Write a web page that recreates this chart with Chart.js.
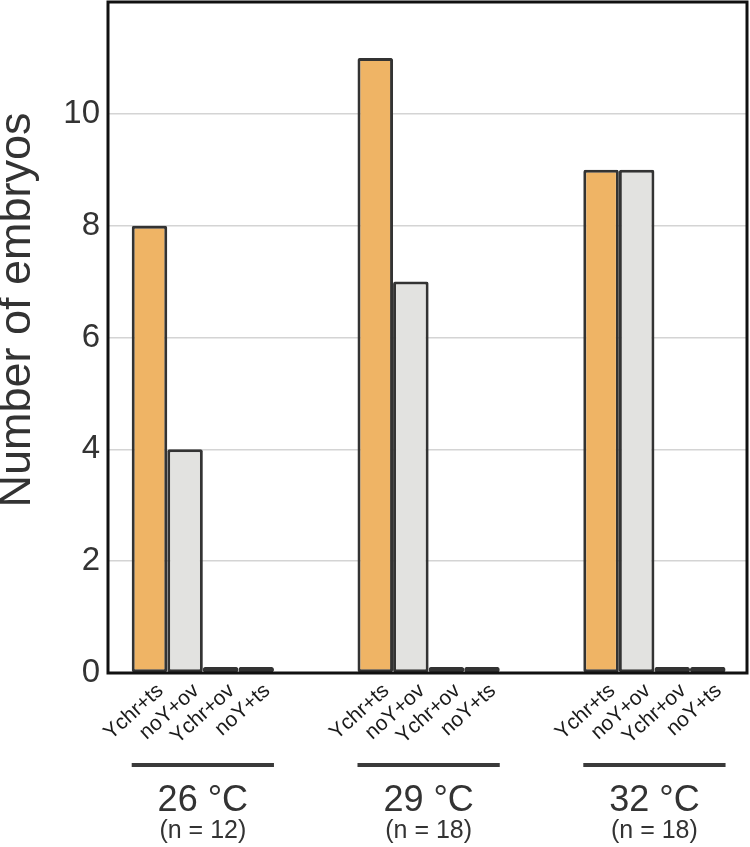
<!DOCTYPE html>
<html>
<head>
<meta charset="utf-8">
<title>Number of embryos</title>
<script src="https://cdn.jsdelivr.net/npm/chart.js@4.4.0/dist/chart.umd.min.js"></script>
<style>
  body { margin: 0; background: #fff; overflow: hidden; }
  canvas { display: block; }
</style>
</head>
<body>
<canvas id="embryoChart" width="750" height="847"></canvas>
<script>
// groups on the x axis
var temperatures = ['26 °C', '29 °C', '32 °C'];
var sampleSizes = ['(n = 12)', '(n = 18)', '(n = 18)'];

// number of embryos per temperature, one array per bar of a group
var ychrTs = [8, 11, 9];
var noYOv = [4, 7, 9];
var ychrOv = [0, 0, 0];
var noYTs = [0, 0, 0];

// y axis ticks
var yMax = 12;
var yStep = 2;

var fontFamily = '"Liberation Sans", Arial, Helvetica, sans-serif';
var textColor = '#333333';
var orange = '#EFB465';
var grey = '#E2E2E0';
var edge = '#333333';

// the groups do not sit on half-category offsets in the original, so the
// category range is widened a little (in category units)
var xStart = -0.42;
var xRange = 2.83;

function makeDataset(label, values, color) {
    return {
        label: label,
        data: values,
        backgroundColor: color,
        borderColor: edge,
        borderWidth: 3,
        borderRadius: 2,
        borderSkipped: false,
        minBarLength: 6,
        barPercentage: 1.0,
        categoryPercentage: 0.63
    };
}

// frame, labels under the bars, group lines and temperatures
var decorations = {
    id: 'decorations',
    afterDraw: function (chart) {
        var ctx = chart.ctx;
        var area = chart.chartArea;
        var xScale = chart.scales.x;
        ctx.save();

        ctx.strokeStyle = '#111111';
        ctx.lineWidth = 3;
        ctx.strokeRect(area.left, area.top, area.right - area.left, area.bottom - area.top);

        // rotated bar labels
        ctx.fillStyle = '#1a1a1a';
        ctx.font = '21px ' + fontFamily;
        ctx.textAlign = 'right';
        ctx.textBaseline = 'middle';
        chart.data.datasets.forEach(function (ds, i) {
            chart.getDatasetMeta(i).data.forEach(function (bar) {
                ctx.save();
                ctx.translate(bar.x + 11, area.bottom + 15);
                ctx.rotate(-42 * Math.PI / 180);
                ctx.fillText(ds.label, 0, 0);
                ctx.restore();
            });
        });

        // line under each group + temperature + n
        var first = chart.getDatasetMeta(0).data;
        var last = chart.getDatasetMeta(chart.data.datasets.length - 1).data;
        ctx.strokeStyle = '#3a3a3a';
        ctx.lineWidth = 4;
        ctx.fillStyle = textColor;
        ctx.textAlign = 'center';
        temperatures.forEach(function (t, j) {
            var x1 = first[j].x - first[j].width / 2;
            var x2 = last[j].x + last[j].width / 2;
            ctx.beginPath();
            ctx.moveTo(x1, 765);
            ctx.lineTo(x2, 765);
            ctx.stroke();

            var cx = xScale.getPixelForValue(j);
            ctx.font = '36px ' + fontFamily;
            ctx.fillText(t, cx, 801);
            ctx.font = '25px ' + fontFamily;
            ctx.fillText(sampleSizes[j], cx, 831);
        });

        // y axis title
        ctx.save();
        ctx.translate(18, 310);
        ctx.rotate(-Math.PI / 2);
        ctx.font = '45px ' + fontFamily;
        ctx.fillStyle = textColor;
        ctx.textAlign = 'center';
        ctx.textBaseline = 'middle';
        ctx.fillText('Number of embryos', 0, 0);
        ctx.restore();

        ctx.restore();
    }
};

var ctx = document.getElementById('embryoChart').getContext('2d');
var embryoChart = new Chart(ctx, {
    type: 'bar',
    data: {
        labels: temperatures,
        datasets: [
            makeDataset('Ychr+ts', ychrTs, orange),
            makeDataset('noY+ov', noYOv, grey),
            makeDataset('Ychr+ov', ychrOv, grey),
            makeDataset('noY+ts', noYTs, orange)
        ]
    },
    options: {
        responsive: false,
        animation: false,
        devicePixelRatio: 1,
        layout: {
            padding: { top: 2, right: 3, left: 0, bottom: 0 }
        },
        plugins: {
            legend: { display: false },
            tooltip: { enabled: false }
        },
        scales: {
            x: {
                type: 'category',
                grid: { display: false },
                border: { display: false },
                ticks: { display: false },
                afterBuildTicks: function (scale) {
                    scale._startValue = xStart;
                    scale._valueRange = xRange;
                },
                afterFit: function (scale) {
                    scale.height = 174;
                }
            },
            y: {
                min: 0,
                max: yMax,
                border: { display: false },
                grid: {
                    color: '#d4d4d4',
                    lineWidth: 1.5,
                    drawTicks: false
                },
                ticks: {
                    stepSize: yStep,
                    padding: 8,
                    color: textColor,
                    font: { family: fontFamily, size: 33 },
                    callback: function (v) {
                        return v === yMax ? '' : v;
                    }
                },
                afterFit: function (scale) {
                    scale.width = 108;
                    // no extra room for the half labels at the ends
                    scale.paddingTop = 0;
                    scale.paddingBottom = 0;
                }
            }
        }
    },
    plugins: [decorations]
});
</script>
</body>
</html>
